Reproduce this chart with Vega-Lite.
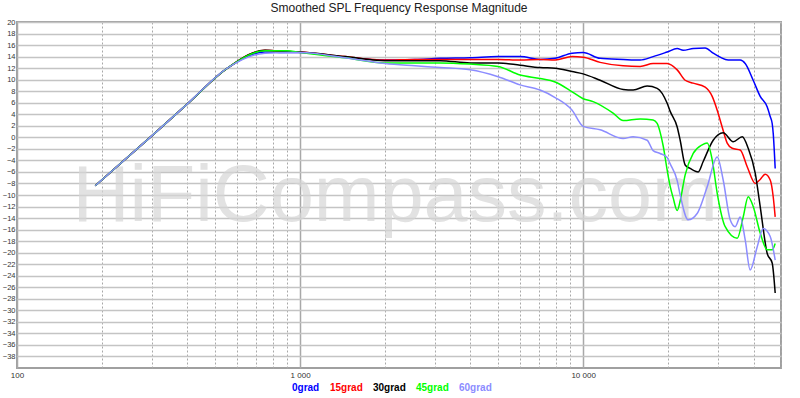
{
  "$schema": "https://vega.github.io/schema/vega-lite/v6.json",
  "width": 764,
  "height": 346,
  "autosize": "none",
  "padding": {"left": 17, "top": 22, "right": 19, "bottom": 30},
  "background": "white",
  "title": {"text": "Smoothed SPL Frequency Response Magnitude", "fontSize": 12, "fontWeight": "normal", "font": "Liberation Sans", "color": "#202020", "offset": 3},
  "config": {
    "font": "Liberation Sans",
    "view": {"stroke": "#a0a0a0", "strokeWidth": 2},
    "legend": {"orient": "none", "legendX": 265, "legendY": 361, "direction": "horizontal", "padding": 0, "symbolSize": 0, "symbolStrokeWidth": 0, "symbolOpacity": 0, "labelOffset": 0, "columnPadding": -4, "labelFontSize": 10, "labelFontWeight": "bold", "labelFont": "Liberation Sans"}
  },
  "datasets": {
    "mark": [{"t": "HiFiCompass.com", "f": 2166, "d": -14.5}],
    "curves": [
      {"s": "0grad", "f": 189, "d": -8.4}, {"s": "0grad", "f": 300, "d": 0.3}, {"s": "0grad", "f": 400, "d": 5.8}, {"s": "0grad", "f": 557, "d": 12.1}, {"s": "0grad", "f": 752, "d": 14.8}, {"s": "0grad", "f": 899, "d": 14.7}, {"s": "0grad", "f": 1000, "d": 14.7}, {"s": "0grad", "f": 1443, "d": 13.9}, {"s": "0grad", "f": 1995, "d": 13.4}, {"s": "0grad", "f": 2547, "d": 13.5}, {"s": "0grad", "f": 3125, "d": 13.7}, {"s": "0grad", "f": 3988, "d": 13.8}, {"s": "0grad", "f": 5008, "d": 14.0}, {"s": "0grad", "f": 5990, "d": 14.0}, {"s": "0grad", "f": 7047, "d": 13.5}, {"s": "0grad", "f": 7962, "d": 13.7}, {"s": "0grad", "f": 9141, "d": 14.6}, {"s": "0grad", "f": 10000, "d": 14.7}, {"s": "0grad", "f": 11480, "d": 13.7}, {"s": "0grad", "f": 13850, "d": 13.5}, {"s": "0grad", "f": 15900, "d": 13.4}, {"s": "0grad", "f": 17670, "d": 14.0}, {"s": "0grad", "f": 19810, "d": 14.8}, {"s": "0grad", "f": 21490, "d": 15.4}, {"s": "0grad", "f": 22560, "d": 15.1}, {"s": "0grad", "f": 24480, "d": 15.4}, {"s": "0grad", "f": 26980, "d": 15.5}, {"s": "0grad", "f": 28800, "d": 14.6}, {"s": "0grad", "f": 30480, "d": 13.9}, {"s": "0grad", "f": 32540, "d": 13.4}, {"s": "0grad", "f": 35880, "d": 13.4}, {"s": "0grad", "f": 37370, "d": 12.8}, {"s": "0grad", "f": 39880, "d": 9.9}, {"s": "0grad", "f": 42220, "d": 7.1}, {"s": "0grad", "f": 44670, "d": 5.3}, {"s": "0grad", "f": 45800, "d": 3.6}, {"s": "0grad", "f": 46540, "d": 2.4}, {"s": "0grad", "f": 46930, "d": 0.7}, {"s": "0grad", "f": 47690, "d": -5.4},
      {"s": "15grad", "f": 189, "d": -8.4}, {"s": "15grad", "f": 300, "d": 0.3}, {"s": "15grad", "f": 400, "d": 5.8}, {"s": "15grad", "f": 557, "d": 12.1}, {"s": "15grad", "f": 752, "d": 15.1}, {"s": "15grad", "f": 899, "d": 14.9}, {"s": "15grad", "f": 1000, "d": 14.8}, {"s": "15grad", "f": 1443, "d": 14.0}, {"s": "15grad", "f": 1995, "d": 13.4}, {"s": "15grad", "f": 2547, "d": 13.5}, {"s": "15grad", "f": 3125, "d": 13.5}, {"s": "15grad", "f": 3988, "d": 13.5}, {"s": "15grad", "f": 5008, "d": 13.5}, {"s": "15grad", "f": 5990, "d": 13.4}, {"s": "15grad", "f": 7047, "d": 13.5}, {"s": "15grad", "f": 7962, "d": 13.4}, {"s": "15grad", "f": 9141, "d": 14.0}, {"s": "15grad", "f": 10000, "d": 13.9}, {"s": "15grad", "f": 11480, "d": 13.0}, {"s": "15grad", "f": 13850, "d": 12.4}, {"s": "15grad", "f": 15900, "d": 12.3}, {"s": "15grad", "f": 17670, "d": 12.8}, {"s": "15grad", "f": 19810, "d": 12.8}, {"s": "15grad", "f": 21490, "d": 11.7}, {"s": "15grad", "f": 22930, "d": 9.9}, {"s": "15grad", "f": 24480, "d": 9.4}, {"s": "15grad", "f": 26980, "d": 8.7}, {"s": "15grad", "f": 28570, "d": 7.1}, {"s": "15grad", "f": 29760, "d": 4.7}, {"s": "15grad", "f": 30980, "d": 1.8}, {"s": "15grad", "f": 32280, "d": -1.0}, {"s": "15grad", "f": 33620, "d": -1.9}, {"s": "15grad", "f": 35880, "d": -2.2}, {"s": "15grad", "f": 37980, "d": -5.1}, {"s": "15grad", "f": 40540, "d": -8.0}, {"s": "15grad", "f": 42220, "d": -7.3}, {"s": "15grad", "f": 43960, "d": -6.4}, {"s": "15grad", "f": 45800, "d": -7.4}, {"s": "15grad", "f": 46930, "d": -10.3}, {"s": "15grad", "f": 47690, "d": -13.8},
      {"s": "30grad", "f": 189, "d": -8.4}, {"s": "30grad", "f": 300, "d": 0.3}, {"s": "30grad", "f": 400, "d": 5.8}, {"s": "30grad", "f": 557, "d": 12.1}, {"s": "30grad", "f": 752, "d": 15.1}, {"s": "30grad", "f": 899, "d": 14.9}, {"s": "30grad", "f": 1000, "d": 14.8}, {"s": "30grad", "f": 1443, "d": 14.0}, {"s": "30grad", "f": 1995, "d": 13.3}, {"s": "30grad", "f": 2547, "d": 13.3}, {"s": "30grad", "f": 3125, "d": 13.3}, {"s": "30grad", "f": 3988, "d": 12.9}, {"s": "30grad", "f": 5008, "d": 12.9}, {"s": "30grad", "f": 5990, "d": 12.5}, {"s": "30grad", "f": 7047, "d": 12.1}, {"s": "30grad", "f": 7962, "d": 12.0}, {"s": "30grad", "f": 9141, "d": 11.4}, {"s": "30grad", "f": 10000, "d": 11.0}, {"s": "30grad", "f": 11480, "d": 9.9}, {"s": "30grad", "f": 13850, "d": 8.3}, {"s": "30grad", "f": 15020, "d": 8.2}, {"s": "30grad", "f": 16830, "d": 8.9}, {"s": "30grad", "f": 18260, "d": 8.5}, {"s": "30grad", "f": 19810, "d": 5.9}, {"s": "30grad", "f": 20300, "d": 4.5}, {"s": "30grad", "f": 21490, "d": 1.8}, {"s": "30grad", "f": 22020, "d": -0.5}, {"s": "30grad", "f": 22930, "d": -4.8}, {"s": "30grad", "f": 23890, "d": -5.4}, {"s": "30grad", "f": 25500, "d": -6.0}, {"s": "30grad", "f": 26550, "d": -4.2}, {"s": "30grad", "f": 28800, "d": -0.5}, {"s": "30grad", "f": 31240, "d": 0.8}, {"s": "30grad", "f": 33900, "d": -0.75}, {"s": "30grad", "f": 36470, "d": 0.1}, {"s": "30grad", "f": 38290, "d": -1.9}, {"s": "30grad", "f": 40540, "d": -6.2}, {"s": "30grad", "f": 42220, "d": -12.0}, {"s": "30grad", "f": 44670, "d": -20.1}, {"s": "30grad", "f": 46540, "d": -21.8}, {"s": "30grad", "f": 47690, "d": -27.0},
      {"s": "45grad", "f": 189, "d": -8.4}, {"s": "45grad", "f": 300, "d": 0.3}, {"s": "45grad", "f": 400, "d": 5.8}, {"s": "45grad", "f": 557, "d": 12.1}, {"s": "45grad", "f": 752, "d": 15.0}, {"s": "45grad", "f": 899, "d": 15.0}, {"s": "45grad", "f": 1000, "d": 14.7}, {"s": "45grad", "f": 1443, "d": 13.8}, {"s": "45grad", "f": 1995, "d": 12.9}, {"s": "45grad", "f": 2547, "d": 12.9}, {"s": "45grad", "f": 3125, "d": 12.9}, {"s": "45grad", "f": 3988, "d": 12.7}, {"s": "45grad", "f": 5008, "d": 12.3}, {"s": "45grad", "f": 5990, "d": 10.8}, {"s": "45grad", "f": 7047, "d": 10.2}, {"s": "45grad", "f": 7962, "d": 9.6}, {"s": "45grad", "f": 9141, "d": 7.9}, {"s": "45grad", "f": 10000, "d": 6.7}, {"s": "45grad", "f": 10847, "d": 6.2}, {"s": "45grad", "f": 12760, "d": 4.2}, {"s": "45grad", "f": 13850, "d": 2.9}, {"s": "45grad", "f": 15900, "d": 3.2}, {"s": "45grad", "f": 17670, "d": 3.0}, {"s": "45grad", "f": 18260, "d": 2.4}, {"s": "45grad", "f": 18700, "d": 0.9}, {"s": "45grad", "f": 19180, "d": -1.5}, {"s": "45grad", "f": 19810, "d": -5.7}, {"s": "45grad", "f": 20300, "d": -8.5}, {"s": "45grad", "f": 20800, "d": -10.5}, {"s": "45grad", "f": 21490, "d": -12.7}, {"s": "45grad", "f": 22020, "d": -11.0}, {"s": "45grad", "f": 22930, "d": -6.5}, {"s": "45grad", "f": 24480, "d": -2.8}, {"s": "45grad", "f": 26330, "d": -1.3}, {"s": "45grad", "f": 27420, "d": -1.0}, {"s": "45grad", "f": 28570, "d": -3.9}, {"s": "45grad", "f": 29760, "d": -9.7}, {"s": "45grad", "f": 31760, "d": -15.5}, {"s": "45grad", "f": 35020, "d": -17.5}, {"s": "45grad", "f": 36770, "d": -13.8}, {"s": "45grad", "f": 38290, "d": -10.3}, {"s": "45grad", "f": 39880, "d": -12.0}, {"s": "45grad", "f": 42220, "d": -16.6}, {"s": "45grad", "f": 44670, "d": -19.5}, {"s": "45grad", "f": 46540, "d": -19.5}, {"s": "45grad", "f": 47690, "d": -18.4},
      {"s": "60grad", "f": 189, "d": -8.4}, {"s": "60grad", "f": 300, "d": 0.3}, {"s": "60grad", "f": 400, "d": 5.8}, {"s": "60grad", "f": 557, "d": 12.1}, {"s": "60grad", "f": 752, "d": 14.6}, {"s": "60grad", "f": 899, "d": 14.7}, {"s": "60grad", "f": 1000, "d": 14.7}, {"s": "60grad", "f": 1443, "d": 13.8}, {"s": "60grad", "f": 1995, "d": 12.8}, {"s": "60grad", "f": 2547, "d": 12.4}, {"s": "60grad", "f": 3125, "d": 12.1}, {"s": "60grad", "f": 3988, "d": 11.7}, {"s": "60grad", "f": 5008, "d": 10.5}, {"s": "60grad", "f": 5990, "d": 9.1}, {"s": "60grad", "f": 7047, "d": 8.2}, {"s": "60grad", "f": 7962, "d": 6.9}, {"s": "60grad", "f": 9141, "d": 4.7}, {"s": "60grad", "f": 10000, "d": 1.9}, {"s": "60grad", "f": 11480, "d": 1.3}, {"s": "60grad", "f": 13850, "d": -0.2}, {"s": "60grad", "f": 15020, "d": 0.1}, {"s": "60grad", "f": 16830, "d": -0.5}, {"s": "60grad", "f": 17670, "d": -2.3}, {"s": "60grad", "f": 18700, "d": -2.8}, {"s": "60grad", "f": 19810, "d": -3.5}, {"s": "60grad", "f": 20300, "d": -4.6}, {"s": "60grad", "f": 21490, "d": -7.5}, {"s": "60grad", "f": 22020, "d": -10.0}, {"s": "60grad", "f": 23500, "d": -14.3}, {"s": "60grad", "f": 25280, "d": -13.2}, {"s": "60grad", "f": 27420, "d": -8.6}, {"s": "60grad", "f": 29760, "d": -3.4}, {"s": "60grad", "f": 31240, "d": -7.4}, {"s": "60grad", "f": 33070, "d": -14.3}, {"s": "60grad", "f": 34450, "d": -15.5}, {"s": "60grad", "f": 35880, "d": -13.8}, {"s": "60grad", "f": 37370, "d": -17.8}, {"s": "60grad", "f": 38910, "d": -23.0}, {"s": "60grad", "f": 41190, "d": -19.0}, {"s": "60grad", "f": 43250, "d": -15.8}, {"s": "60grad", "f": 45800, "d": -17.2}, {"s": "60grad", "f": 47690, "d": -21.3}
    ]
  },
  "layer": [
    {
      "data": {"name": "mark"},
      "mark": {"type": "text", "fontSize": 79, "font": "Liberation Sans", "color": "#d6d6d6", "opacity": 0.7, "align": "center", "baseline": "alphabetic"},
      "encoding": {
        "x": {"field": "f", "type": "quantitative", "scale": {"type": "log", "domain": [100, 50000], "nice": false}},
        "y": {"field": "d", "type": "quantitative", "scale": {"domain": [-40, 20], "nice": false}},
        "text": {"field": "t"}
      }
    },
    {
      "data": {"name": "curves"},
      "mark": {"type": "line", "strokeWidth": 1.5, "interpolate": "monotone"},
      "encoding": {
        "x": {"field": "f", "type": "quantitative", "scale": {"type": "log", "domain": [100, 50000], "nice": false},
          "axis": {"title": null, "tickCount": 200, "values": [100, 200, 300, 400, 500, 600, 700, 800, 900, 1000, 2000, 3000, 4000, 5000, 6000, 7000, 8000, 9000, 10000, 20000, 30000, 40000, 50000],
            "labelExpr": "datum.value == 100 ? '100' : datum.value == 1000 ? '1 000' : datum.value == 10000 ? '10 000' : ''",
            "ticks": false, "domain": false, "labelFontSize": 8, "labelColor": "#333333", "labelPadding": 3, "labelFlush": false, "labelOverlap": false,
            "grid": true,
            "gridColor": "#a8a8a8",
            "gridWidth": {"condition": {"test": "datum.value == 100 || datum.value == 1000 || datum.value == 10000", "value": 1.5}, "value": 1},
            "gridDash": {"condition": {"test": "datum.value == 100 || datum.value == 1000 || datum.value == 10000", "value": []}, "value": [2, 2]}
          }},
        "y": {"field": "d", "type": "quantitative", "scale": {"domain": [-40, 20], "nice": false},
          "axis": {"title": null, "tickCount": 200, "format": "d", "values": [-38, -36, -34, -32, -30, -28, -26, -24, -22, -20, -18, -16, -14, -12, -10, -8, -6, -4, -2, 0, 2, 4, 6, 8, 10, 12, 14, 16, 18, 20],
            "ticks": false, "domain": false, "labelFontSize": 7.5, "labelColor": "#333333", "labelPadding": 2, "labelOverlap": false, "labelFlush": false,
            "grid": true, "gridColor": "#c4c4c4", "gridWidth": 1.5}},
        "color": {"field": "s", "type": "nominal", "sort": ["0grad", "15grad", "30grad", "45grad", "60grad"],
          "scale": {"domain": ["0grad", "15grad", "30grad", "45grad", "60grad"], "range": ["#0000ff", "#ff0000", "#000000", "#00ff00", "#8c8cff"]},
          "legend": {"title": null, "encode": {"labels": {"update": {"fill": {"scale": "color", "field": "value"}}}}}}
      }
    }
  ]
}
